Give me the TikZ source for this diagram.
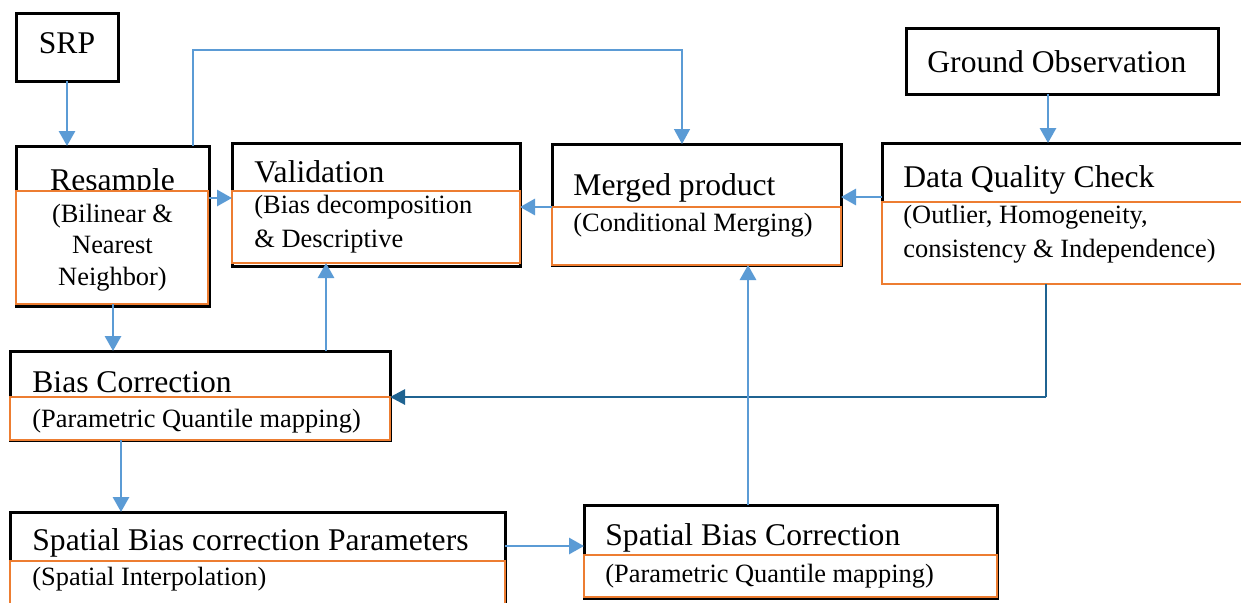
\documentclass[tikz,border=0pt]{standalone}
\usepackage{fontspec}
\setmainfont{Liberation Serif}
\usetikzlibrary{arrows.meta}
\definecolor{boxorange}{HTML}{ED7D31}
\definecolor{arrblue}{HTML}{5B9BD5}
\definecolor{arrteal}{HTML}{1F6391}
\newcommand{\titlefnt}{\fontsize{15.8pt}{19pt}\selectfont}
\newcommand{\subfnt}{\fontsize{13.2pt}{16pt}\selectfont}
% name, x1, y1, x2, y2, style
\newcommand{\boxnode}[6]{\node[#6, minimum width={(#4-#2)*0.5pt}, minimum height={(#5-#3)*0.5pt}] (#1) at ({(#2+#4)/2},{(#3+#5)/2}) {};}
\tikzset{
  blackbox/.style={draw=black, line width=1.5pt, rectangle, inner sep=0pt, outer sep=0pt},
  orangebox/.style={draw=boxorange, fill=white, line width=1.3pt, rectangle, inner sep=0pt, outer sep=0pt},
  ttl/.style={font=\titlefnt, inner sep=0pt, anchor=base west},
  ttlc/.style={font=\titlefnt, inner sep=0pt, anchor=base},
  sbt/.style={font=\subfnt, inner sep=0pt, anchor=base west},
  sbtc/.style={font=\subfnt, inner sep=0pt, anchor=base},
  bluearrow/.style={draw=arrblue, line width=1.45pt, -{Triangle[length=7.5pt,width=8pt]}},
  thinarrow/.style={draw=arrblue, line width=0.7pt, -{Triangle[length=7.5pt,width=8pt]}},
  tealline/.style={draw=arrteal, line width=0.7pt},
  tealarrow/.style={draw=arrteal, line width=1.4pt, -{Triangle[length=7.5pt,width=7.5pt]}}
}
\begin{document}
\begin{tikzpicture}[x=0.5pt,y=-0.5pt]
\useasboundingbox (0,0) rectangle (1241,602);
\clip (0,0) rectangle (1241,602);
\fill[white] (0,0) rectangle (1241,602);

% SRP
\boxnode{srp}{16}{13}{118}{81}{blackbox}
\node[ttlc] (srpT) at (67,53) {SRP};

% Resample
\boxnode{res}{16}{146}{209}{306}{blackbox}
\node[ttlc] (resT) at (112.5,190) {Resample};
\boxnode{resO}{16}{191}{208}{304}{orangebox}
\node[sbtc] (resS1) at (112.5,222) {(Bilinear \&};
\node[sbtc] (resS2) at (112.5,253) {Nearest};
\node[sbtc] (resS3) at (112.5,285) {Neighbor)};

% Validation
\boxnode{val}{232}{143}{520}{266}{blackbox}
\node[ttl] (valT) at (254,182) {Validation};
\boxnode{valO}{232}{191}{520}{263}{orangebox}
\node[sbt] (valS1) at (254,213) {(Bias decomposition};
\node[sbt] (valS2) at (254,247) {\& Descriptive};

% Merged product
\boxnode{mrg}{552}{144}{841}{265}{blackbox}
\node[ttl] (mrgT) at (573,195) {Merged product};
\boxnode{mrgO}{552}{207}{841}{265}{orangebox}
\node[sbt] (mrgS1) at (573,231) {(Conditional Merging)};

% Ground Observation
\boxnode{go}{906}{28}{1218}{94}{blackbox}
\node[ttl] (goT) at (927,72) {Ground Observation};

% Data Quality Check
\boxnode{dqc}{882}{143}{1260}{281}{blackbox}
\node[ttl] (dqcT) at (903,187) {Data Quality Check};
\boxnode{dqcO}{882}{202}{1260}{284}{orangebox}
\node[sbt] (dqcS1) at (903,223) {(Outlier, Homogeneity,};
\node[sbt] (dqcS2) at (903,257) {consistency \& Independence)};

% Bias Correction
\boxnode{bc}{10}{351}{390}{440}{blackbox}
\node[ttl] (bcT) at (32,392) {Bias Correction};
\boxnode{bcO}{10}{397}{390}{440}{orangebox}
\node[sbt] (bcS1) at (32,427) {(Parametric Quantile mapping)};

% Spatial Bias correction Parameters
\boxnode{sp}{10}{512}{505}{620}{blackbox}
\node[ttl] (spT) at (32,550) {Spatial Bias correction Parameters};
\boxnode{spO}{10}{561}{505}{620}{orangebox}
\node[sbt] (spS1) at (32,585) {(Spatial Interpolation)};

% Spatial Bias Correction
\boxnode{sbc}{584}{505}{997}{598}{blackbox}
\node[ttl] (sbcT) at (605,545) {Spatial Bias Correction};
\boxnode{sbcO}{584}{555}{997}{597}{orangebox}
\node[sbt] (sbcS1) at (605,582) {(Parametric Quantile mapping)};

% helper coordinates for connector levels
\coordinate (yRV) at (0,198);
\coordinate (yMV) at (0,207);
\coordinate (yDM) at (0,197);
\coordinate (xGD) at (1048,0);
\coordinate (xDB) at (1046,0);
\coordinate (yDB) at (0,397);
\coordinate (xRB) at (113,0);
\coordinate (xBV) at (326,0);
\coordinate (xBS) at (121,0);
\coordinate (ySS) at (0,546);
\coordinate (xSM) at (748,0);
\coordinate (t1) at (193,50);
\coordinate (t2) at (682,50);
\coordinate (tc) at (1046,397);

% connectors
\draw[bluearrow] (srp.south) -- (srp.south |- res.north);
\draw[thinarrow] (t1 |- res.north) -- (t1) -- (t2) -- (t2 |- mrg.north);
\draw[bluearrow] (res.east |- yRV) -- (val.west |- yRV);
\draw[bluearrow] (mrg.west |- yMV) -- (val.east |- yMV);
\draw[bluearrow] (dqc.west |- yDM) -- (mrg.east |- yDM);
\draw[bluearrow] (xGD |- go.south) -- (xGD |- dqc.north);
\draw[tealline] (xDB |- dqcO.south) -- (tc);
\draw[tealarrow] (tc) -- (bc.east |- yDB);
\draw[bluearrow] (xRB |- resO.south) -- (xRB |- bc.north);
\draw[bluearrow] (xBV |- bc.north) -- (xBV |- valO.south);
\draw[bluearrow] (xBS |- bcO.south) -- (xBS |- sp.north);
\draw[bluearrow] (sp.east |- ySS) -- (sbc.west |- ySS);
\draw[bluearrow] (xSM |- sbc.north) -- (xSM |- mrgO.south);
\end{tikzpicture}
\end{document}
